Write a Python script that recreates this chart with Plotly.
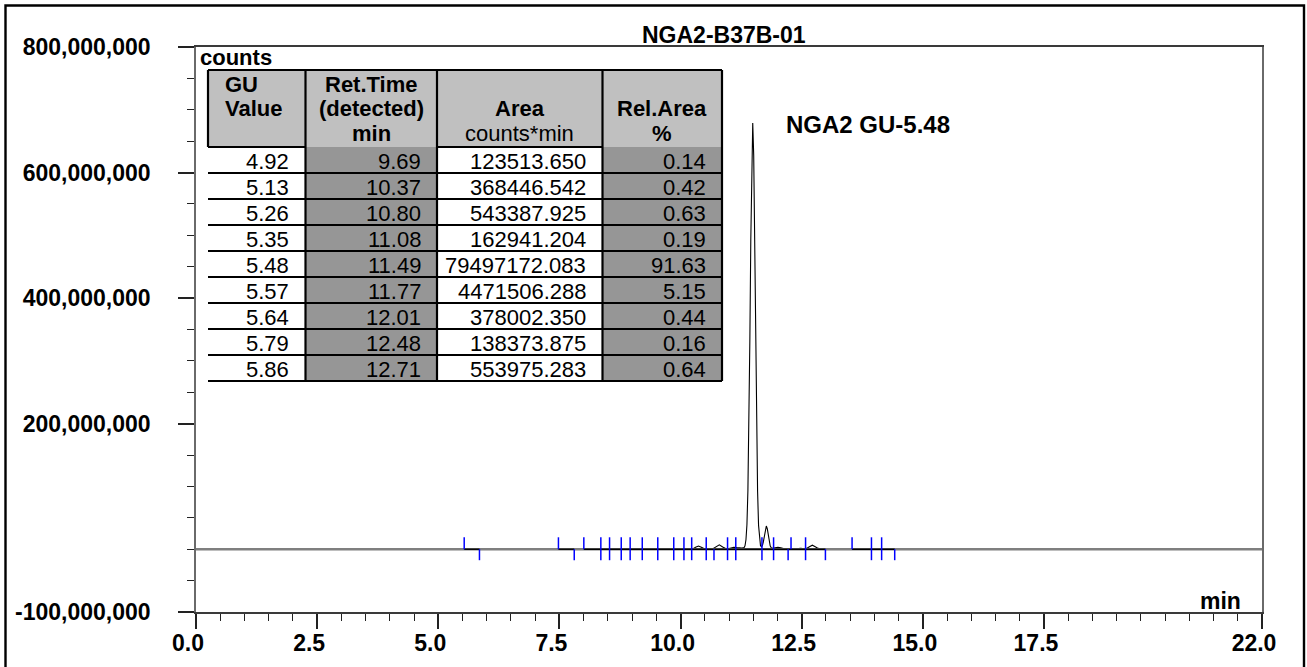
import plotly.graph_objects as go

# ---------------- data ----------------
# chromatogram trace (time in min, signal in millions of counts)
time_min = [0.00, 9.60, 9.69, 9.78, 10.25, 10.31, 10.37, 10.43, 10.49, 10.66, 10.73, 10.80,
            10.87, 10.94, 11.00, 11.05, 11.10, 11.16, 11.22, 11.27, 11.31, 11.33, 11.35,
            11.37, 11.39, 11.41, 11.43, 11.45, 11.47, 11.49, 11.51, 11.53, 11.55, 11.57,
            11.59, 11.61, 11.63, 11.65, 11.67, 11.69, 11.71, 11.73, 11.75, 11.77, 11.79,
            11.81, 11.83, 11.85, 11.87, 11.90, 11.95, 12.01, 12.07, 12.14, 12.38, 12.48,
            12.56, 12.60, 12.66, 12.72, 12.78, 12.84, 12.92, 13.20, 22.00]
signal_mcounts = [0.0, 0.0, 1.0, 0.0, 0.5, 3.0, 5.0, 3.0, 0.6, 0.6, 3.5, 7.0,
                  3.5, 0.8, 1.0, 2.5, 3.0, 2.5, 2.0, 2.0, 2.5, 5.5, 15.0,
                  39.0, 93.0, 190.0, 331.0, 493.0, 627.0, 679.0, 627.0, 493.0, 331.0, 189.0,
                  92.0, 38.0, 14.0, 5.5, 4.0, 6.0, 12.0, 22.4, 32.6, 37.0, 32.6,
                  22.4, 12.0, 5.5, 2.5, 1.5, 2.2, 3.0, 2.2, 0.8, 0.5, 1.5,
                  0.8, 1.3, 3.9, 6.4, 3.9, 1.3, 0.3, 0.0, 0.0]

# peak delimiters (min)
delim_up = [5.535, 7.48, 8.004, 8.355, 8.535, 8.776, 8.96, 9.21, 9.53, 9.86, 10.07,
            10.23, 10.53, 10.97, 11.14, 11.68, 11.92, 12.28, 12.58, 13.54, 13.94, 14.15]
delim_down = [5.85, 7.806, 8.355, 8.535, 8.776, 8.96, 9.21, 9.53, 9.86, 10.07, 10.23,
              10.53, 10.69, 10.97, 11.14, 11.68, 11.92, 12.22, 12.58, 12.99, 13.94,
              14.15, 14.42]
# integration baselines (min)
base_start = [5.535, 7.48, 8.004, 13.54]
base_end = [5.85, 7.806, 12.99, 14.42]

# peak table
gu_values = [4.92, 5.13, 5.26, 5.35, 5.48, 5.57, 5.64, 5.79, 5.86]
ret_times = [9.69, 10.37, 10.80, 11.08, 11.49, 11.77, 12.01, 12.48, 12.71]
areas = [123513.650, 368446.542, 543387.925, 162941.204, 79497172.083,
         4471506.288, 378002.350, 138373.875, 553975.283]
rel_areas = [0.14, 0.42, 0.63, 0.19, 91.63, 5.15, 0.44, 0.16, 0.64]

x_tickvals = [0, 2.5, 5, 7.5, 10, 12.5, 15, 17.5, 20, 22]
x_ticktext = ["0.0", "2.5", "5.0", "7.5", "10.0", "12.5", "15.0", "17.5", "", "22.0"]
y_tickvals = [-100e6, 0, 200e6, 400e6, 600e6, 800e6]
y_ticktext = ["-100,000,000", "", "200,000,000", "400,000,000", "600,000,000", "800,000,000"]

title_text = "NGA2-B37B-01"
peak_label = "NGA2 GU-5.48"

# ---------------- layout constants ----------------
W, H = 1307, 667
ML, MR, MT, MB = 196, 45, 47, 55
PW, PH = W - ML - MR, H - MT - MB
X_RANGE = [0, 22]
Y_RANGE = [-100e6, 800e6]
FONT = "Liberation Sans, Arial, sans-serif"
LBL = 23       # bold label font size
TBL = 22       # table font size


def pxx(px):
    return (px - ML) / PW


def pxy(py):
    return (H - MB - py) / PH


# table geometry (pixels)
T_LEFT, T_TOP = 208, 70
col_w = [97.5, 131.5, 165.5, 119.5]
head_h, row_h = 77, 26
PAD = 4
col_edges = [0]
for w in col_w:
    col_edges.append(col_edges[-1] + w)
row_edges = [0, head_h]
for _ in gu_values:
    row_edges.append(row_edges[-1] + row_h)
T_W, T_H = col_edges[-1], row_edges[-1]

fig = go.Figure()

# chromatogram
fig.add_trace(go.Scatter(x=time_min, y=[v * 1e6 for v in signal_mcounts], mode="lines",
                         line=dict(color="black", width=1.1), hoverinfo="skip"))
# drawn baseline (gray)
fig.add_trace(go.Scatter(x=X_RANGE, y=[0, 0], mode="lines",
                         line=dict(color="#7f7f7f", width=2.4), hoverinfo="skip"))
# integration baselines
bx, by = [], []
for s, e in zip(base_start, base_end):
    bx += [s, e, None]
    by += [0, 0, None]
fig.add_trace(go.Scatter(x=bx, y=by, mode="lines", line=dict(color="black", width=1.4),
                         hoverinfo="skip"))
# delimiters
UP, DOWN = 19e6, -17.5e6
tx, ty = [], []
for t in delim_up:
    tx += [t, t, None]
    ty += [0, UP, None]
for t in delim_down:
    tx += [t, t, None]
    ty += [0, DOWN, None]
fig.add_trace(go.Scatter(x=tx, y=ty, mode="lines", line=dict(color="#0000ff", width=1.5),
                         hoverinfo="skip"))

# ---- peak table (cells via heatmap on its own axes) ----
z = [[1, 1, 1, 1]] + [[0, 2, 0, 2] for _ in gu_values]
fig.add_trace(go.Heatmap(x=col_edges, y=row_edges, z=z, xaxis="x2", yaxis="y2",
                         zmin=0, zmax=2, showscale=False, hoverinfo="skip",
                         colorscale=[[0, "white"], [0.5, "#c0c0c0"], [1, "#969696"]]))

shapes = []


def tline(x0, y0, x1, y1, w=2.2):
    shapes.append(dict(type="line", xref="x2", yref="y2", x0=x0, y0=y0, x1=x1, y1=y1,
                       line=dict(color="black", width=w), layer="above"))


tline(0, 0, T_W, 0)
tline(T_W, 0, T_W, T_H)
tline(0, T_H, T_W, T_H)
tline(0, 0, 0, head_h)
for xe in col_edges[1:-1]:
    tline(xe, 0, xe, T_H)
tline(col_edges[0], head_h, col_edges[1], head_h)
tline(col_edges[2], head_h, col_edges[3], head_h)
for ye in row_edges[2:-1]:
    tline(0, ye, T_W, ye)

# outer frame of the picture
shapes.append(dict(type="rect", xref="paper", yref="paper",
                   x0=pxx(5.5), x1=pxx(1304), y0=pxy(720), y1=pxy(5.5),
                   line=dict(color="black", width=2.4), fillcolor="rgba(0,0,0,0)"))

annotations = []


def tann(text, x, y, xanchor, bold=False):
    annotations.append(dict(text=text, x=x, y=y, xref="x2", yref="y2", xanchor=xanchor,
                            yanchor="middle", showarrow=False,
                            font=dict(family=FONT, size=TBL, color="black",
                                      weight="bold" if bold else "normal")))


K = 0.35 * TBL
slot = [22 - K, 46 - K, 71 - K]
cc = [(col_edges[i] + col_edges[i + 1]) / 2 for i in range(4)]
tann("GU", 15, slot[0], "left", True)
tann("Value", 15, slot[1], "left", True)
tann("Ret.Time", cc[1], slot[0], "center", True)
tann("(detected)", cc[1], slot[1], "center", True)
tann("min", cc[1], slot[2], "center", True)
tann("Area", cc[2], slot[1], "center", True)
tann("counts*min", cc[2], slot[2], "center", False)
tann("Rel.Area", cc[3], slot[1], "center", True)
tann("%", cc[3], slot[2], "center", True)

RPAD = 14.5
for i in range(len(gu_values)):
    yc = row_edges[i + 1] + row_h / 2 + 1
    tann(f"{gu_values[i]:.2f}", col_edges[1] - RPAD, yc, "right")
    tann(f"{ret_times[i]:.2f}", col_edges[2] - RPAD, yc, "right")
    tann(f"{areas[i]:.3f}", col_edges[3] - RPAD, yc, "right")
    tann(f"{rel_areas[i]:.2f}", col_edges[4] - RPAD, yc, "right")

bold_font = dict(family=FONT, size=LBL, color="black", weight="bold")
annotations += [
    dict(text=title_text, x=pxx(723.7), y=pxy(35), xref="paper", yref="paper",
         xanchor="center", yanchor="middle", showarrow=False, font=bold_font),
    dict(text="counts", x=0.05, y=783e6, xref="x", yref="y", xanchor="left",
         yanchor="middle", showarrow=False,
         font=dict(family=FONT, size=22, color="black", weight="bold")),
    dict(text="min", x=21.61, y=-83e6, xref="x", yref="y", xanchor="right",
         yanchor="middle", showarrow=False, font=bold_font),
    dict(text=peak_label, x=12.14, y=677e6, xref="x", yref="y", xanchor="left",
         yanchor="middle", showarrow=False,
         font=dict(family=FONT, size=24, color="black", weight="bold")),
]

x_minor = [i * 0.5 for i in range(45)]
y_minor = [(-100 + 50 * i) * 1e6 for i in range(19)]

fig.update_layout(
    width=W, height=H, margin=dict(l=ML, r=MR, t=MT, b=MB, pad=0, autoexpand=False),
    paper_bgcolor="white", plot_bgcolor="white", showlegend=False,
    font=dict(family=FONT, color="black"),
    xaxis=dict(range=X_RANGE, showgrid=False, zeroline=False, showline=True,
               automargin=False,
               linecolor="#3a3a3a", linewidth=1.5, mirror=True,
               tickmode="array", tickvals=x_tickvals, ticktext=x_ticktext,
               ticks="outside", ticklen=15, tickwidth=1.5, tickcolor="#222222",
               ticklabelstandoff=-5, ticklabelshift=-8,
               tickfont=dict(family=FONT, size=LBL, color="black", weight="bold"),
               minor=dict(tickmode="array", tickvals=x_minor, ticks="outside", ticklen=7,
                          tickwidth=1, tickcolor="#222222")),
    yaxis=dict(range=Y_RANGE, showgrid=False, zeroline=False, showline=True,
               automargin=False,
               linecolor="#6a6a6a", linewidth=1.5, mirror=True,
               tickmode="array", tickvals=y_tickvals, ticktext=y_ticktext,
               ticks="outside", ticklen=16, tickwidth=1.5, tickcolor="#222222",
               ticklabelstandoff=23,
               tickfont=dict(family=FONT, size=LBL, color="black", weight="bold"),
               minor=dict(tickmode="array", tickvals=y_minor, ticks="outside", ticklen=7,
                          tickwidth=1, tickcolor="#222222")),
    xaxis2=dict(domain=[pxx(T_LEFT - PAD), pxx(T_LEFT + T_W + PAD)],
                range=[-PAD, T_W + PAD], visible=False, anchor="y2", fixedrange=True),
    yaxis2=dict(domain=[pxy(T_TOP + T_H + PAD), pxy(T_TOP - PAD)],
                range=[T_H + PAD, -PAD], visible=False, anchor="x2", fixedrange=True),
    shapes=shapes, annotations=annotations,
)

fig.write_html("out.html", config={"displayModeBar": False},
               post_script="document.body.style.margin='0';")
